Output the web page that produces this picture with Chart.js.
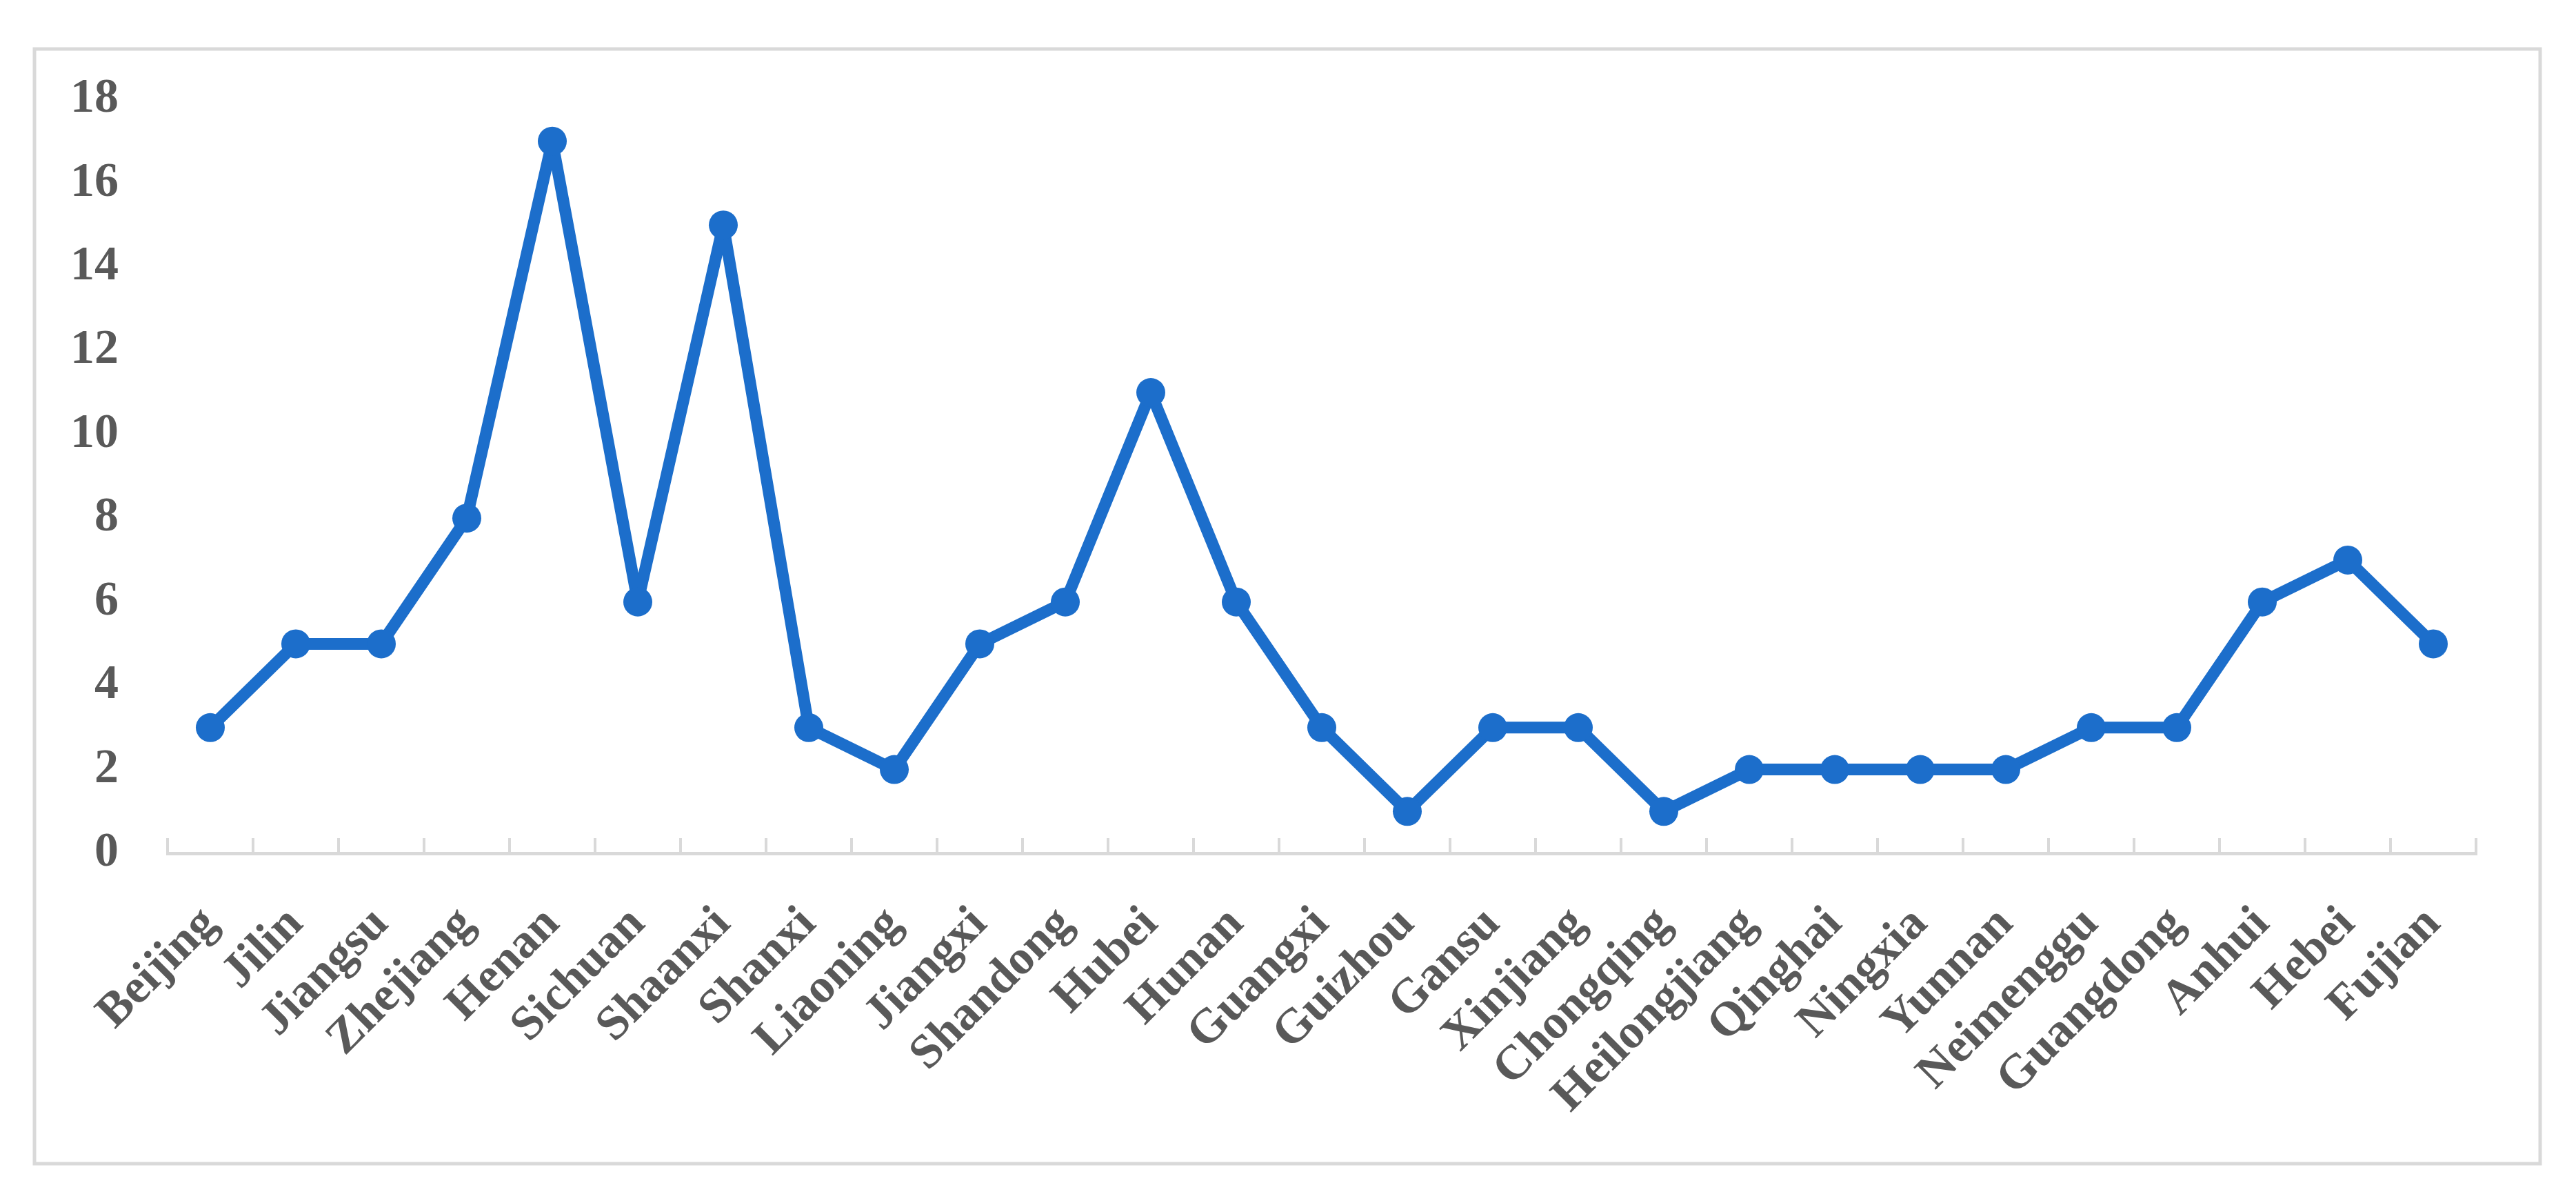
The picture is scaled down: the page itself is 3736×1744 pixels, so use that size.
<!DOCTYPE html>
<html>
<head>
<meta charset="utf-8">
<script src="https://cdn.jsdelivr.net/npm/chart.js@4.4.0/dist/chart.umd.min.js"></script>
<style>
  html, body { margin: 0; padding: 0; background: #ffffff; }
  canvas { display: block; }
</style>
</head>
<body>
<canvas id="c" width="3736" height="1744"></canvas>
<script>
const categories = ["Beijing","Jilin","Jiangsu","Zhejiang","Henan","Sichuan","Shaanxi","Shanxi","Liaoning","Jiangxi","Shandong","Hubei","Hunan","Guangxi","Guizhou","Gansu","Xinjiang","Chongqing","Heilongjiang","Qinghai","Ningxia","Yunnan","Neimenggu","Guangdong","Anhui","Hebei","Fujian"];
const values = [3,5,5,8,17,6,15,3,2,5,6,11,6,3,1,3,3,1,2,2,2,2,3,3,6,7,5];
const yMin = 0;
const yMax = 18;
const yStep = 2;

const lineColor = '#1C6ECB';
const textColor = '#595959';
const axisColor = '#D9D9D9';
const fontFamily = '"Liberation Serif", "Times New Roman", serif';

const frame = {
  id: 'frame',
  beforeDraw(chart) {
    const ctx = chart.ctx;
    ctx.save();
    ctx.fillStyle = '#ffffff';
    ctx.fillRect(0, 0, chart.width, chart.height);
    ctx.strokeStyle = axisColor;
    ctx.lineWidth = 5;
    ctx.strokeRect(50, 71, 3634, 1616);
    ctx.restore();
  }
};

new Chart(document.getElementById('c'), {
  type: 'line',
  data: {
    labels: categories,
    datasets: [{
      data: values,
      borderColor: lineColor,
      backgroundColor: lineColor,
      borderWidth: 17,
      borderJoinStyle: 'round',
      borderCapStyle: 'round',
      pointRadius: 21,
      pointBorderWidth: 0,
      pointBackgroundColor: lineColor,
      tension: 0,
      fill: false
    }]
  },
  options: {
    responsive: false,
    devicePixelRatio: 1,
    animation: false,
    layout: { padding: { left: 0, top: 144, right: 145, bottom: 0 } },
    plugins: {
      legend: { display: false },
      tooltip: { enabled: false },
      title: { display: false }
    },
    scales: {
      x: {
        type: 'category',
        offset: true,
        grid: {
          display: true,
          offset: true,
          drawOnChartArea: false,
          drawTicks: true,
          tickLength: -22,
          color: axisColor,
          lineWidth: 4
        },
        border: { display: true, color: axisColor, width: 5 },
        ticks: {
          autoSkip: false,
          minRotation: 45,
          maxRotation: 45,
          padding: 84,
          color: textColor,
          font: { family: fontFamily, size: 70, weight: 'bold' }
        },
        afterFit: (s) => { s.height = 1744 - 1237; }
      },
      y: {
        min: yMin,
        max: yMax,
        grid: { display: false },
        border: { display: false },
        ticks: {
          stepSize: yStep,
          padding: 63,
          color: textColor,
          font: { family: fontFamily, size: 70, weight: 'bold' }
        },
        afterFit: (s) => { s.width = 243; }
      }
    }
  },
  plugins: [frame]
});
</script>
</body>
</html>
